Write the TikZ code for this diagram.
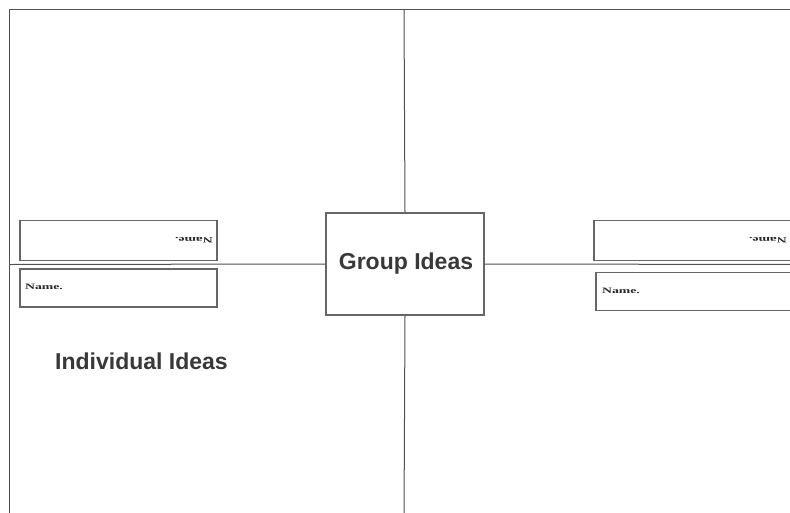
\documentclass[tikz,border=0pt]{standalone}
\usepackage{fontspec}
\setmainfont{Liberation Serif}
\newfontfamily\headfont{Liberation Sans}
\definecolor{linegray}{HTML}{505050}
\definecolor{boxgray}{HTML}{666666}
\definecolor{textgray}{HTML}{383838}
\begin{document}
\begin{tikzpicture}[x=1pt,y=-1pt,
  frameline/.style={draw=linegray,line width=1pt},
  namebox/.style={draw=boxgray,line width=1.3pt,fill=white},
  nametext/.style={inner sep=0pt,text=black!85,font=\bfseries\fontsize{11}{11}\selectfont},
  heading/.style={inner sep=0pt,text=textgray,font=\headfont\bfseries\fontsize{23}{24}\selectfont}]
\useasboundingbox (0,0) rectangle (790,512);
\begin{scope}
\clip (0,0) rectangle (790,512);
% outer frame
\coordinate (tl) at (9.5,9);
\coordinate (bl) at (9.5,520);
\coordinate (tr) at (800,9);
\coordinate (tm) at (404,9);
\coordinate (bm) at (404,520);
\coordinate (ml) at (9.5,264.5);
\coordinate (mr) at (800,264.5);
\draw[frameline] (bl) -- (tl) -- (tr);
% group box
\node[draw=boxgray,line width=1.3pt,minimum width=158pt,minimum height=102pt,inner sep=0pt] (group) at (405,264) {};
\node[heading] (grouptext) at (406,263.5) {Group Ideas};
\draw[frameline] (tm) -- (group.north);
\draw[frameline] (group.south) -- (bm);
\draw[frameline] (ml) -- (group.west);
\draw[frameline] (group.east) -- (mr);
% left boxes
\node[namebox,minimum width=197pt,minimum height=40pt,inner sep=0pt] (lt) at (118.5,240.7) {};
\node[nametext,rotate=180] (ltt) at (194,240) {\scalebox{1.25}[0.75]{Name.}};
\node[namebox,minimum width=197pt,minimum height=38pt,inner sep=0pt] (lb) at (118.5,288) {};
\node[nametext] (lbt) at (44,287) {\scalebox{1.25}[0.75]{Name.}};
% right boxes
\node[namebox,minimum width=197pt,minimum height=40pt,inner sep=0pt] (rt) at (692.5,240.7) {};
\node[nametext,rotate=180] (rtt) at (768,240) {\scalebox{1.25}[0.75]{Name.}};
\node[namebox,minimum width=197pt,minimum height=38pt,inner sep=0pt] (rb) at (694.5,291.8) {};
\node[nametext] (rbt) at (621,291) {\scalebox{1.25}[0.75]{Name.}};
% individual ideas
\node[heading] (indiv) at (141.5,361) {Individual Ideas};
\end{scope}
\end{tikzpicture}
\end{document}
